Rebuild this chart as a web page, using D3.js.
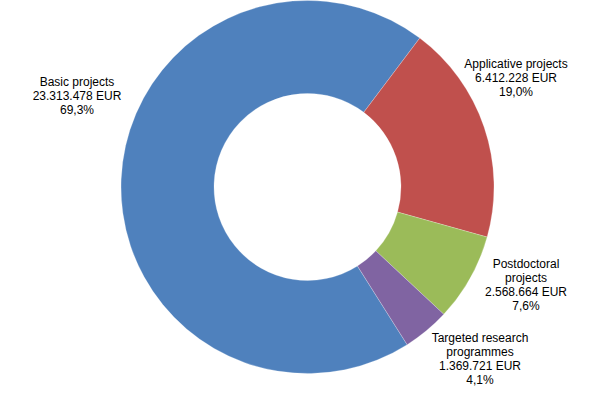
<!DOCTYPE html>
<html>
<head>
<meta charset="utf-8">
<script src="https://cdn.jsdelivr.net/npm/d3@7"></script>
<style>
  body { margin: 0; background: #fff; }
  text { font-family: "Liberation Sans", Arial, sans-serif; font-size: 12px; fill: #000; }
</style>
</head>
<body>
<div id="container"></div>
<script>
/* DATA */
const categories = ["Basic projects", "Applicative projects", "Postdoctoral projects", "Targeted research programmes"];
const amounts = [23313478, 6412228, 2568664, 1369721];
const amountLabels = ["23.313.478 EUR", "6.412.228 EUR", "2.568.664 EUR", "1.369.721 EUR"];
const percentLabels = ["69,3%", "19,0%", "7,6%", "4,1%"];
// label lines (category names wrapped like the original)
const nameLines = [["Basic projects"], ["Applicative projects"], ["Postdoctoral", "projects"], ["Targeted research", "programmes"]];

/* LAYOUT */
const width = 594, height = 395,
  cx = 307.5, cy = 187,
  outerR = 186.5, innerR = 93.5,
  lineH = 14;
const colors = ["#4F81BD", "#C0504D", "#9BBB59", "#8064A2"];
// top of each label block, in page pixels
const labelAt = [[77, 75], [516, 57], [526, 257], [480, 331]];

const startDeg = 147.7;
const pie = d3.pie().sort(null)
  .startAngle(startDeg * Math.PI / 180)
  .endAngle(startDeg * Math.PI / 180 + 2 * Math.PI);
const arc = d3.arc().innerRadius(innerR).outerRadius(outerR);

const svg = d3.select("#container").append("svg")
  .attr("width", width)
  .attr("height", height);

const g = svg.append("g").attr("transform", `translate(${cx},${cy})`);

g.selectAll("path.slice")
  .data(pie(amounts))
  .join("path")
  .attr("class", "slice")
  .attr("d", arc)
  .attr("fill", (d, i) => colors[i])
  .attr("stroke", "#fff")
  .attr("stroke-opacity", 0.4)
  .attr("stroke-width", 0.6);

// labels
categories.forEach((c, i) => {
  const lines = [...nameLines[i], amountLabels[i], percentLabels[i]];
  const t = svg.append("text")
    .attr("text-anchor", "middle")
    .attr("x", labelAt[i][0])
    .attr("y", labelAt[i][1]);
  lines.forEach((l, j) => {
    t.append("tspan")
      .attr("x", labelAt[i][0])
      .attr("dy", j === 0 ? "0.9em" : lineH)
      .text(l);
  });
});
</script>
</body>
</html>
